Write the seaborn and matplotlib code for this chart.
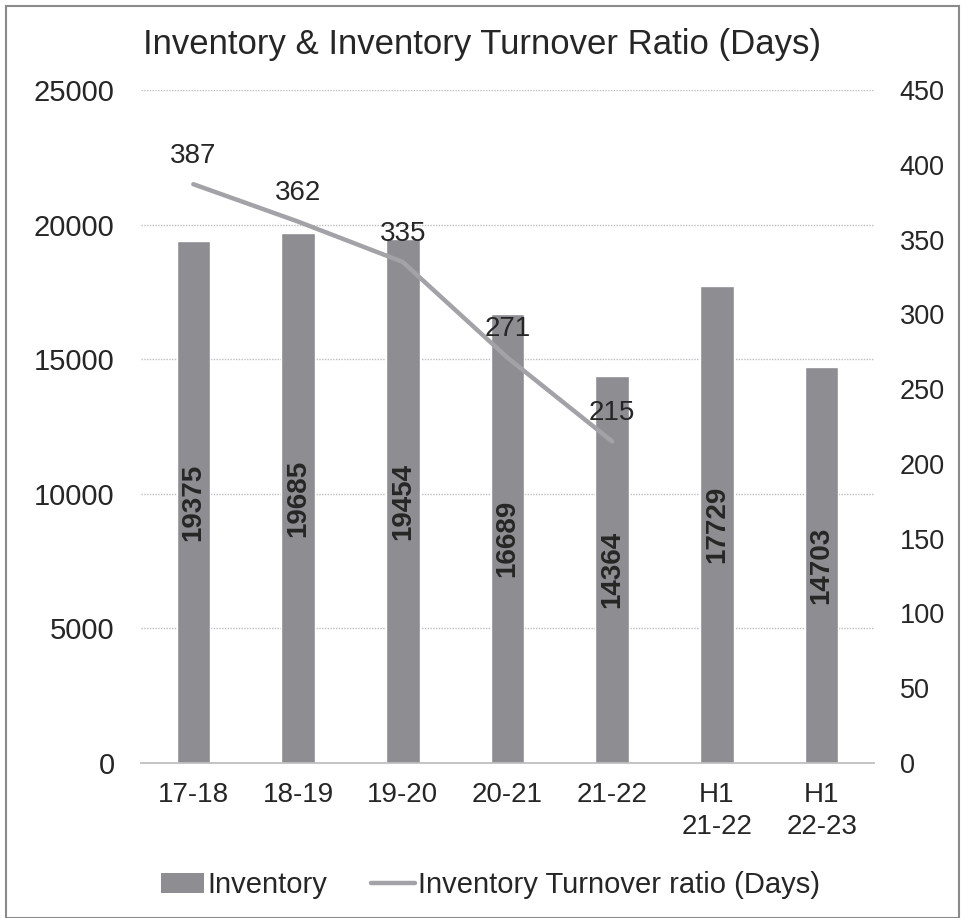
import matplotlib
matplotlib.use("Agg")
import matplotlib.pyplot as plt
import seaborn as sns
import pandas as pd
import numpy as np
from matplotlib.patches import Rectangle, Patch
from matplotlib.lines import Line2D

categories = ["17-18", "18-19", "19-20", "20-21", "21-22", "H1\n21-22", "H1\n22-23"]
inventory = [19375, 19685, 19454, 16689, 14364, 17729, 14703]
turnover_cats = ["17-18", "18-19", "19-20", "20-21", "21-22"]
turnover_days = [387, 362, 335, 271, 215]

sns.set_theme(style="white")
plt.rcParams['font.family'] = ['Liberation Sans', 'DejaVu Sans']

BAR = "#8d8d92"
LINE = "#a3a3a7"
TXT = "#262626"

fig = plt.figure(figsize=(9.63, 9.18), dpi=100)
ax = fig.add_axes([0.1464, 0.1688, 0.7612, 0.7332])

df = pd.DataFrame({"cat": categories, "inv": inventory})
sns.barplot(data=df, x="cat", y="inv", color=BAR, width=0.32, saturation=1, ax=ax)
ax.set_ylim(0, 25000)
ax.set_yticks(np.arange(0, 25001, 5000))
ax.set_xlim(-0.5, len(categories) - 0.5)
ax.set_xlabel("")
ax.set_ylabel("")
ax.grid(axis="y", color="#bdbdbd", linestyle=(0, (1, 1)), linewidth=1)
ax.set_axisbelow(True)
for s in ["top", "right", "left"]:
    ax.spines[s].set_visible(False)
ax.spines["bottom"].set_color("#bdbdbd")
ax.tick_params(axis="y", labelsize=21, colors=TXT, pad=19, length=0)
ax.tick_params(axis="x", labelsize=20, colors=TXT, pad=14, length=0)
for lbl in ax.get_xticklabels():
    lbl.set_linespacing(1.3)

for i, v in enumerate(inventory):
    ax.text(i, v / 2, f"{v}", rotation=90, ha="center", va="center",
            fontsize=20, fontweight="bold", color=TXT)

ax2 = ax.twinx()
ldf = pd.DataFrame({"x": np.arange(len(turnover_days)), "d": turnover_days})
sns.lineplot(data=ldf, x="x", y="d", color=LINE, linewidth=3.2, ax=ax2)
ax2.set_ylim(0, 450)
ax2.set_yticks(np.arange(0, 451, 50))
ax2.set_ylabel("")
ax2.grid(False)
for s in ["top", "right", "left", "bottom"]:
    ax2.spines[s].set_visible(False)
ax2.tick_params(axis="y", labelsize=19.5, colors=TXT, pad=18.5, length=0)
for i, v in enumerate(turnover_days):
    ax2.annotate(f"{v}", (i, v), xytext=(0, 11), textcoords="offset points",
                 ha="center", va="bottom", fontsize=20, color=TXT)

fig.text(0.5, 0.951, "Inventory & Inventory Turnover Ratio (Days)", ha="center",
         va="center", fontsize=25, color=TXT)

handles = [Patch(facecolor=BAR, edgecolor="none"),
           Line2D([0], [0], color=LINE, linewidth=3.2)]
fig.legend(handles, ["Inventory", "Inventory Turnover ratio (Days)"],
           loc="center", bbox_to_anchor=(0.509, 0.036), ncol=2, frameon=False,
           fontsize=21, handlelength=1.5, handletextpad=0.1, columnspacing=1.5,
           labelcolor=TXT)

fig.patches.append(Rectangle((0.006, 0.0), 0.99, 0.994, transform=fig.transFigure,
                             fill=False, edgecolor="#8a8a8a", linewidth=1.5))

fig.savefig("out.png", dpi=100)
